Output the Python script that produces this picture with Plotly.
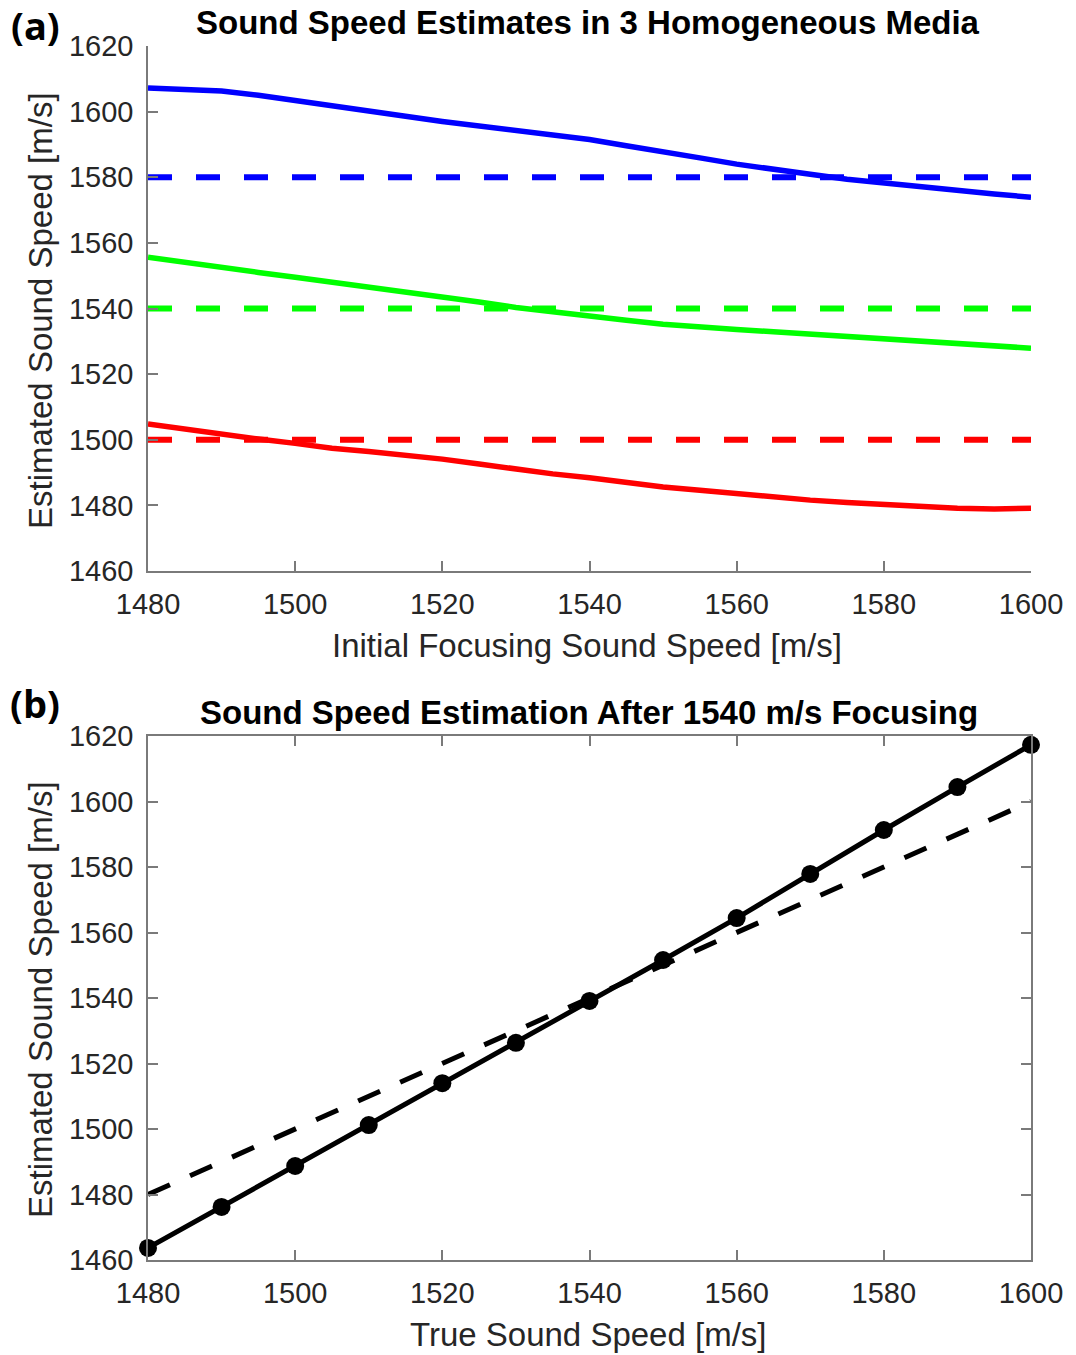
import plotly.graph_objects as go

# ---- Panel (a): estimated sound speed vs. initial focusing sound speed ----
focus_speed = [1480, 1485, 1490, 1495, 1500, 1505, 1510, 1515, 1520, 1525,
               1530, 1535, 1540, 1545, 1550, 1555, 1560, 1565, 1570, 1575,
               1580, 1585, 1590, 1595, 1600]

est_1580 = [1607.2, 1606.8, 1606.3, 1605.0, 1603.3, 1601.8, 1600.2, 1598.6, 1597.0, 1595.6,
            1594.2, 1592.9, 1591.5, 1589.6, 1587.9, 1585.9, 1584.0, 1582.3, 1580.9, 1579.4,
            1578.2, 1577.0, 1575.9, 1574.9, 1573.9]
est_1540 = [1555.6, 1554.2, 1552.8, 1551.0, 1549.5, 1548.0, 1546.6, 1545.2, 1543.8, 1542.0,
            1540.3, 1538.9, 1537.6, 1536.4, 1535.2, 1534.6, 1533.6, 1532.9, 1532.2, 1531.4,
            1530.6, 1530.0, 1529.3, 1528.6, 1527.9]
est_1500 = [1504.8, 1503.2, 1501.7, 1500.2, 1498.9, 1497.4, 1496.4, 1495.3, 1494.1, 1492.6,
            1490.9, 1489.6, 1488.4, 1486.9, 1485.6, 1484.6, 1483.5, 1482.4, 1481.6, 1480.9,
            1480.2, 1479.7, 1479.1, 1478.9, 1479.1]

true_media = [1580, 1540, 1500]
media_colors = ["#0000FF", "#00FF00", "#FF0000"]

# ---- Panel (b): estimate after 1540 m/s focusing vs. true sound speed ----
true_speed = [1480, 1490, 1500, 1510, 1520, 1530, 1540, 1550, 1560, 1570, 1580, 1590, 1600]
est_after_1540 = [1463.7, 1476.2, 1488.7, 1501.2, 1514.0, 1526.3, 1539.1, 1551.6,
                  1564.4, 1577.9, 1591.3, 1604.4, 1617.3]

x_ticks = [1480, 1500, 1520, 1540, 1560, 1580, 1600]
y_ticks = [1460, 1480, 1500, 1520, 1540, 1560, 1580, 1600, 1620]

W, H = 1076, 1355
FONT = "Liberation Sans, Arial, Helvetica, sans-serif"
TXT = "#262626"
AX = "#7a7a7a"


def px(x):
    return x / W


def py(y):
    return 1 - y / H


fig = go.Figure()

for est, ref, col in zip([est_1580, est_1540, est_1500], true_media, media_colors):
    fig.add_trace(go.Scatter(x=focus_speed, y=est, mode="lines",
                             line=dict(color=col, width=5.5), xaxis="x", yaxis="y"))
    fig.add_trace(go.Scatter(x=[focus_speed[0], focus_speed[-1]], y=[ref, ref], mode="lines",
                             line=dict(color=col, width=6, dash="24px,24px"),
                             xaxis="x", yaxis="y"))

fig.add_trace(go.Scatter(x=[true_speed[0], true_speed[-1]], y=[true_speed[0], true_speed[-1]],
                         mode="lines", line=dict(color="black", width=5, dash="24px,22px"),
                         xaxis="x2", yaxis="y2"))
fig.add_trace(go.Scatter(x=true_speed, y=est_after_1540, mode="lines+markers",
                         line=dict(color="black", width=5),
                         marker=dict(color="black", size=18),
                         cliponaxis=False, xaxis="x2", yaxis="y2"))

axis_common = dict(
    showgrid=False, zeroline=False, showline=True, linecolor=AX, linewidth=1.5,
    ticks="inside", ticklen=10, tickwidth=1.5, tickcolor=AX,
    tickfont=dict(family=FONT, size=29, color=TXT),
)

xdom = [px(148), px(1031)]
fig.update_layout(
    width=W, height=H,
    margin=dict(l=0, r=0, t=0, b=0, autoexpand=False),
    paper_bgcolor="white", plot_bgcolor="white",
    showlegend=False,
    xaxis=dict(domain=xdom, range=[1480, 1600], tickvals=x_ticks, anchor="y",
               ticklabelstandoff=6, **axis_common),
    yaxis=dict(domain=[py(571), py(46)], range=[1460, 1620], tickvals=y_ticks, anchor="x",
               ticklabelstandoff=7, **axis_common),
    xaxis2=dict(domain=xdom, range=[1480, 1600], tickvals=x_ticks, anchor="y2",
                mirror="ticks", ticklabelstandoff=6, **axis_common),
    yaxis2=dict(domain=[py(1260), py(736)], range=[1460, 1620], tickvals=y_ticks, anchor="x2",
                mirror="ticks", ticklabelstandoff=7, **axis_common),
)

ann = []


def text(x, y, s, size, bold=False, angle=0, family=FONT, color=TXT):
    ann.append(dict(x=px(x), y=py(y), xref="paper", yref="paper", text=s, showarrow=False,
                    xanchor="center", yanchor="middle", textangle=angle,
                    font=dict(family=family, size=size, color=color,
                              weight="bold" if bold else "normal")))


text(588, 22, "Sound Speed Estimates in 3 Homogeneous Media", 33, bold=True, color="black")
text(589, 712, "Sound Speed Estimation After 1540 m/s Focusing", 33, bold=True, color="black")
text(40, 311, "Estimated Sound Speed [m/s]", 33, angle=-90)
text(40, 1000, "Estimated Sound Speed [m/s]", 33, angle=-90)
text(587, 645, "Initial Focusing Sound Speed [m/s]", 33)
text(588, 1334, "True Sound Speed [m/s]", 33)
text(35, 25, "(a)", 38, bold=True, family="Open Sans, Lato, sans-serif", color="black")
text(35, 703, "(b)", 38, bold=True, family="Open Sans, Lato, sans-serif", color="black")

fig.update_layout(annotations=ann)
fig.write_html("out.html")
